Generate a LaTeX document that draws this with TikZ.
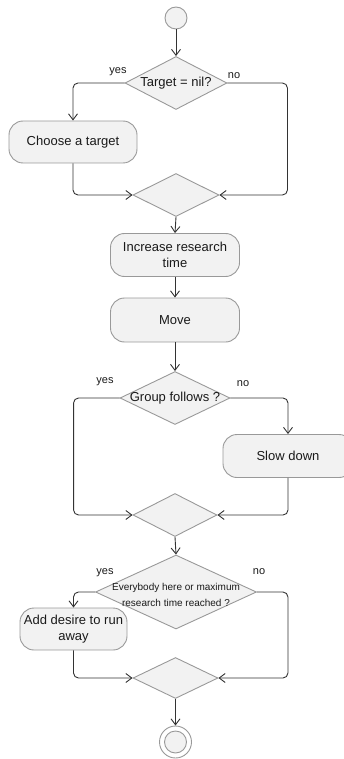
\documentclass[tikz,border=0pt]{standalone}
\usepackage{fontspec}
\setmainfont{Liberation Sans}
\usetikzlibrary{shapes.geometric,arrows.meta}
\definecolor{fillg}{HTML}{F2F2F2}
\definecolor{bord}{HTML}{999999}
\definecolor{lin}{HTML}{333333}
\definecolor{txt}{HTML}{1A1A1A}
\begin{document}
\begin{tikzpicture}[x=1pt,y=-1pt,
 act/.style={rectangle,rounded corners=14pt,draw=bord,fill=fillg,line width=0.9pt,text=txt,font=\fontsize{13}{16}\selectfont,align=center,inner sep=0pt},
 dec/.style={diamond,draw=bord,fill=fillg,line width=0.9pt,inner sep=0pt},
 dtext/.style={text=txt,font=\fontsize{13}{16}\selectfont,align=center,inner sep=0pt},
 lab/.style={text=txt,font=\fontsize{11}{13}\selectfont,inner sep=0pt},
 flow/.style={draw=lin,line width=0.9pt,rounded corners=5pt},
 arr/.style={flow,-{Straight Barb[length=6pt,width=9pt]}}
]
\useasboundingbox (0,0) rectangle (343,759);
\node[circle,draw=bord,fill=fillg,minimum size=22pt,line width=0.9pt] (start) at (176,18) {};
\node[dec,minimum width=102pt,minimum height=53pt] (d1) at (176,83) {};
\node[dtext] (d1t) at (d1.center) {Target = nil?};
\node[act,minimum width=128pt,minimum height=42pt] (choose) at (73,142) {Choose a target};
\node[dec,minimum width=86pt,minimum height=43pt] (d2) at (176,195) {};
\node[act,minimum width=129pt,minimum height=43pt] (inc) at (175,255) {Increase research\\time};
\node[act,minimum width=129pt,minimum height=44pt] (move) at (175,320) {Move};
\node[dec,minimum width=110pt,minimum height=53pt] (d3) at (175,398) {};
\node[dtext] (d3t) at (d3.center) {Group follows ?};
\node[act,minimum width=130pt,minimum height=43pt] (slow) at (288,456) {Slow down};
\node[dec,minimum width=84pt,minimum height=43pt] (d4) at (175,515) {};
\node[dec,minimum width=161pt,minimum height=74pt] (d5) at (176,592) {};
\node[dtext,font=\fontsize{10}{16}\selectfont] (d5t) at (176,595) {Everybody here or maximum\\research time reached ?};
\node[act,minimum width=107pt,minimum height=42pt] (add) at (73.5,629) {Add desire to run\\away};
\node[dec,minimum width=85pt,minimum height=41pt] (d6) at (175.5,678) {};
\node[circle,draw=bord,fill=white,minimum size=32pt,line width=0.9pt] (endo) at (175.5,742) {};
\node[circle,draw=bord,fill=fillg,minimum size=22pt,line width=0.9pt] (endi) at (175.5,742) {};
% labels
\node[lab] (y1) at (118,72) {yes};
\node[lab] (n1) at (234,76) {no};
\node[lab] (y2) at (105,382) {yes};
\node[lab] (n2) at (243,384) {no};
\node[lab] (y3) at (105,573) {yes};
\node[lab] (n3) at (259,572) {no};
% connectors
\draw[arr] (start) -- (d1.north);
\draw[arr] (d1.west) -| (choose.north);
\draw[arr] (choose.south) |- (d2.west);
\draw[arr] (d1.east) -- ++(60,0) |- (d2.east);
\draw[arr] (d2.south) -- (inc.north);
\draw[arr] (inc.south) -- (move.north);
\draw[arr] (move.south) -- (d3.north);
\draw[arr] (d3.west) -- ++(-46,0) |- (d4.west);
\draw[arr] (d3.east) -| (slow.north);
\draw[arr] (slow.south) |- (d4.east);
\draw[arr] (d4.south) -- (d5.north);
\draw[arr] (d5.west) -| (add.north);
\draw[arr] (add.south) |- (d6.west);
\draw[arr] (d5.east) -- ++(31,0) |- (d6.east);
\draw[arr] (d6.south) -- (endo.north);
\end{tikzpicture}
\end{document}
